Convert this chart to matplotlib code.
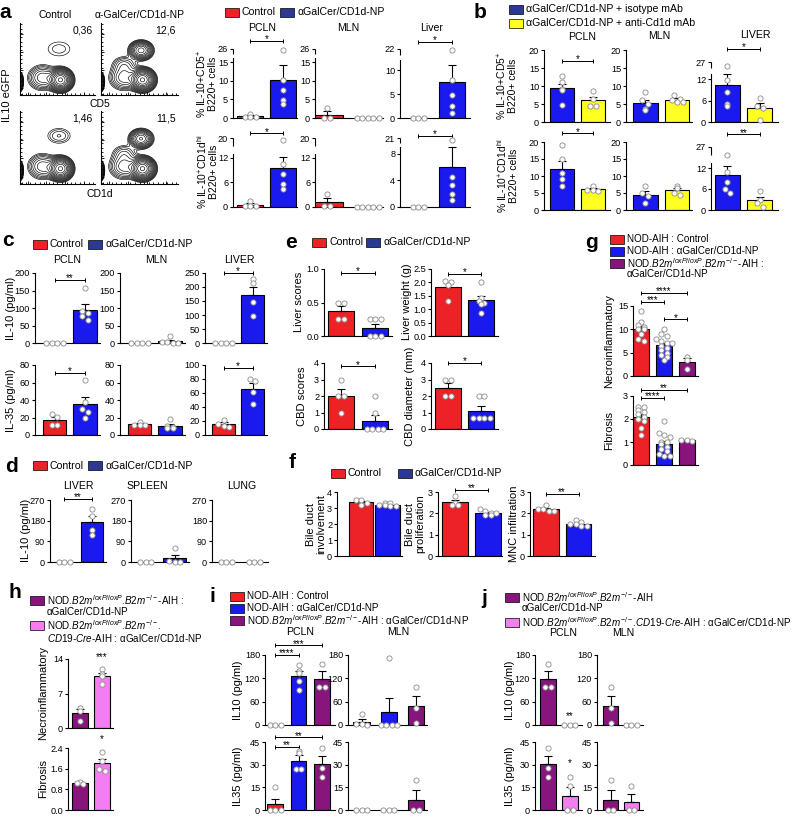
import numpy as np
import matplotlib
matplotlib.use('Agg')
import matplotlib.pyplot as plt
from matplotlib.patches import Rectangle
import matplotlib.transforms as mtransforms

plt.rcParams['font.family'] = ['Liberation Sans', 'DejaVu Sans']
plt.rcParams['mathtext.fontset'] = 'custom'
plt.rcParams['mathtext.rm'] = 'Liberation Sans'
plt.rcParams['mathtext.it'] = 'Liberation Sans:italic'
plt.rcParams['mathtext.bf'] = 'Liberation Sans:bold'
plt.rcParams['axes.linewidth'] = 0.8

RED = '#ec2227'
BLUE = '#1a1aee'
NAVY = '#2b3990'
YELLOW = '#ffff22'
PURPLE = '#88157c'
PINK = '#f27ef0'
PT_EDGE = '#8a8a8a'
FS = 7.6      # titles, legends
FS_KEY2 = 7.1  # long genotype legends (g-j)
FS_TICK = 6.6
FS_YLAB = 8

# ---------------- data ----------------
# a: % IL-10+CD5+ B220+ (row 1), % IL-10+CD1dhi B220+ (row 2)
a_cd5_pcln_ctrl = [1.2, 0.3, 0.3, 0.3]
a_cd5_pcln_np = [25, 10.2, 7.5, 4.8, 3.8]
a_cd5_mln_ctrl = [2.6, 0.1, 0.1]
a_cd5_mln_np = [0, 0, 0, 0, 0]
a_cd5_liver_ctrl = [0, 0, 0]
a_cd5_liver_np = [21, 7.9, 4.8, 2.5, 1.0]
a_cd1d_pcln_ctrl = [1.5, 0.3, 0.3, 0.3]
a_cd1d_pcln_np = [19, 10.5, 8, 5.5, 4.5]
a_cd1d_mln_ctrl = [3.2, 0.2, 0.2]
a_cd1d_mln_np = [0, 0, 0, 0, 0]
a_cd1d_liver_ctrl = [0, 0, 0]
a_cd1d_liver_np = [19, 4.5, 3.3, 1.9, 1.1]

# flow plots: populations (cx, cy, sx, sy) and weights
flow_main = [0.54, 0.21, 0.07, 0.068]
flow_shoulder = [0.30, 0.24, 0.10, 0.09]
flow_edge = [0.0, 0.18, 0.02, 0.06]
flow_mid = [0.30, 0.42, 0.09, 0.07]
flow_pos = {'ctrl_cd5': [0.52, 0.64, 0.15, 0.10], 'np_cd5': [0.52, 0.62, 0.07, 0.06],
            'ctrl_cd1d': [0.52, 0.66, 0.11, 0.075], 'np_cd1d': [0.52, 0.62, 0.07, 0.06]}
flow_pos_w = {'ctrl_cd5': 0.032, 'np_cd5': 0.45, 'ctrl_cd1d': 0.05, 'np_cd1d': 0.40}
flow_mid_w = {'ctrl_cd5': 0.0, 'np_cd5': 0.07, 'ctrl_cd1d': 0.0, 'np_cd1d': 0.06}
flow_pct = {'ctrl_cd5': '0,36', 'np_cd5': '12,6', 'ctrl_cd1d': '1,46', 'np_cd1d': '11,5'}

# b
b_cd5_pcln_iso = [12.8, 11, 9.2, 9, 4.8]
b_cd5_pcln_anti = [8.5, 6.5, 4.5, 4.5]
b_cd5_mln_iso = [8.2, 6.0, 5.0, 3.5, 3.2]
b_cd5_mln_anti = [7.5, 6.5, 6.0, 5.5, 5.5]
b_cd5_liver_iso = [22, 11.7, 8.3, 5.0, 4.5]
b_cd5_liver_anti = [6.7, 4.5, 4.0, 0.5]
b_cd1d_pcln_iso = [19, 15, 11, 9, 7]
b_cd1d_pcln_anti = [7.0, 6.0, 6.0, 5.5]
b_cd1d_mln_iso = [7, 5, 4, 2]
b_cd1d_mln_anti = [7, 6.5, 5, 4.5]
b_cd1d_liver_iso = [20, 11, 8, 6, 5]
b_cd1d_liver_anti = [5.5, 3, 2, 1]

# c
c_il10_pcln_ctrl = [0, 0, 0, 0]
c_il10_pcln_np = [157, 92, 85, 78, 65]
c_il10_mln_ctrl = [0, 0, 0, 0]
c_il10_mln_np = [20, 2, 2, 1, 0]
c_il10_liver_ctrl = [0, 0, 0, 0]
c_il10_liver_np = [228, 214, 146, 95]
c_il35_pcln_ctrl = [24, 21, 11, 11]
c_il35_pcln_np = [63, 38, 30, 26, 20]
c_il35_mln_ctrl = [15, 12, 12, 11]
c_il35_mln_np = [18, 10, 9, 8, 8]
c_il35_liver_ctrl = [22, 16, 13, 11]
c_il35_liver_np = [80, 77, 62, 45]

# d
d_liver_ctrl = [0, 0, 0]
d_liver_np = [232, 200, 140, 118]
d_spleen_ctrl = [0, 0, 0]
d_spleen_np = [61, 5, 2, 2]
d_lung_ctrl = [0, 0, 0]
d_lung_np = [0, 0, 0]

# e
e_liver_score_ctrl = [0.5, 0.5, 0.25, 0.25]
e_liver_score_np = [0.25, 0.25, 0.25, 0, 0, 0]
e_liver_wt_ctrl = [2.05, 2.0, 1.9, 1.3]
e_liver_wt_np = [2.0, 1.4, 1.3, 1.25, 1.2, 0.85]
e_cbd_score_ctrl = [3, 2, 2, 1]
e_cbd_score_np = [2, 1, 0, 0, 0, 0]
e_cbd_diam_ctrl = [3, 3, 2, 2]
e_cbd_diam_np = [2, 2, 0.65, 0.65, 0.65, 0.65]

# f
f_involve_ctrl = [3.5, 3.5, 3.3, 3.2]
f_involve_np = [3.3, 3.3, 3.2, 3.2, 3.1, 3.1]
f_prolif_ctrl = [2.8, 2.5, 2.4, 2.4]
f_prolif_np = [2.2, 2.1, 2.0, 2.0, 1.9, 1.9]
f_mnc_ctrl = [2.4, 2.2, 2.2, 2.1, 2.1]
f_mnc_np = [1.7, 1.6, 1.5, 1.5, 1.4, 1.4]

# g
g_necro_ctrl = [14, 11.5, 11, 10.5, 10, 10, 9, 8, 7.5]
g_necro_np = [10, 9, 8.5, 8, 7.5, 7, 7, 6.5, 6, 5.5, 5, 4.5, 4, 3.5]
g_necro_b2m = [4, 3.5, 1.5]
g_fib_ctrl = [2.5, 2.5, 2.4, 2.3, 2.2, 2.1, 2.0, 1.9, 1.6, 1.3]
g_fib_np = [1.9, 1.4, 1.3, 1.2, 1.0, 1.0, 0.9, 0.8, 0.7, 0.6, 0.5, 0.4, 0.4]
g_fib_b2m = [1.1, 1.1, 1.05]

# h
h_necro_b2m = [4, 3.5, 1.5]
h_necro_cre = [12, 11, 10.5, 9]
h_fib_b2m = [1.1, 1.05, 1.0]
h_fib_cre = [2.25, 1.9, 1.6, 1.5]

# i
i_il10_pcln_ctrl = [0, 0, 0]
i_il10_pcln_np = [155, 140, 135, 112, 90]
i_il10_pcln_b2m = [158, 97, 97]
i_il10_mln_ctrl = [28, 3, 2, 0]
i_il10_mln_np = [172, 0, 0, 0, 0]
i_il10_mln_b2m = [97, 43, 4]
i_il35_pcln_ctrl = [15, 0, 0, 0]
i_il35_pcln_np = [39, 38, 27, 27]
i_il35_pcln_b2m = [41, 28, 22]
i_il35_mln_ctrl = [0, 0, 0]
i_il35_mln_np = [0, 0, 0]
i_il35_mln_b2m = [20, 0, 0]

# j
j_il10_pcln_b2m = [158, 97, 97]
j_il10_pcln_cre = [0, 0, 0]
j_il10_mln_b2m = [97, 43, 4]
j_il10_mln_cre = [0, 0, 0]
j_il35_pcln_b2m = [41, 28, 22]
j_il35_pcln_cre = [22, 16, 0, 0]
j_il35_mln_b2m = [20, 0, 0]
j_il35_mln_cre = [16, 0, 0]

NP = 'αGalCer/CD1d-NP'
B2M = r'NOD.$\mathit{B2m}^{\mathit{loxP/loxP}}$.$\mathit{B2m}^{-/-}$'

# ---------------- helpers ----------------
W, H = 799, 819
fig = plt.figure(figsize=(W / 100, H / 100), dpi=100)


def px_axes(x0, y0, x1, y1):
    return fig.add_axes([x0 / W, 1 - y1 / H, (x1 - x0) / W, (y1 - y0) / H])


def ftext(x, y, s, **kw):
    kw.setdefault('fontsize', FS)
    kw.setdefault('ha', 'center')
    kw.setdefault('va', 'center')
    fig.text(x / W, 1 - y / H, s, **kw)


def letter(x, y, s):
    ftext(x, y, s, fontsize=15, fontweight='bold')


def key(x, y, color, label, w=14, h=9, fs=FS):
    if color is not None:
        fig.add_artist(Rectangle((x / W, 1 - (y + h / 2) / H), w / W, h / H,
                                 transform=fig.transFigure, facecolor=color,
                                 edgecolor='k', lw=0.5))
    ftext(x + w + 3, y, label, ha='left', fontsize=fs)


def ylab(x, y, s, fs=FS_YLAB):
    ftext(x, y, s, rotation=90, linespacing=0.95, fontsize=fs)


def swarm(scaled, binw, step):
    # spread points that sit at about the same height side by side
    keys = np.round(scaled / binw).astype(int)
    offs = np.zeros(len(scaled))
    for kk in np.unique(keys):
        idx = np.where(keys == kk)[0]
        offs[idx] = (np.arange(len(idx)) - (len(idx) - 1) / 2) * step
    return offs


def bars(box, groups, colors, ticks, labels=None, xlim=(-0.6, 1.5), width=0.78,
         brk=None, brackets=(), stars=()):
    x0, x1, ytop, y0 = box
    ax = px_axes(x0, ytop, x1, y0)
    top = ticks[-1]
    fwd = lambda y: np.asarray(y, float)
    top_scaled = top
    if brk is not None:
        b, g = brk
        k = g / (top - b)
        top_scaled = b + g

        def fwd(y, b=b, k=k):
            y = np.asarray(y, float)
            return np.where(y <= b, y, b + (y - b) * k)

        def inv(z, b=b, k=k):
            z = np.asarray(z, float)
            return np.where(z <= b, z, b + (z - b) / k)
        ax.set_yscale('function', functions=(fwd, inv))
    unit_px = (x1 - x0) / (xlim[1] - xlim[0])
    binw = top_scaled * 5.0 / (y0 - ytop)
    for i, (vals, c) in enumerate(zip(groups, colors)):
        vals = np.asarray(vals, float)
        m = vals.mean()
        s = vals.std(ddof=1) / np.sqrt(len(vals))
        if m > 0:
            ax.bar(i, m, width, color=c, edgecolor='k', lw=0.8, zorder=1)
        if s > 0:
            ax.errorbar(i, m, yerr=[[0], [s]], fmt='none', ecolor='k',
                        elinewidth=0.8, capsize=3, capthick=0.8, zorder=2)
        offs = swarm(fwd(vals), binw, 5.5 / unit_px)
        ax.scatter(i + offs, vals, s=14, facecolor='white', edgecolor=PT_EDGE,
                   lw=0.6, zorder=3, clip_on=False)
    ax.set_xlim(*xlim)
    ax.set_ylim(0, top)
    ax.set_xticks([])
    ax.set_yticks(ticks)
    ax.set_yticklabels(labels if labels is not None else [str(t) for t in ticks])
    ax.yaxis.set_minor_locator(matplotlib.ticker.NullLocator())
    ax.tick_params(axis='y', length=2.5, width=0.8, labelsize=FS_TICK, pad=1)
    for sp in ('top', 'right'):
        ax.spines[sp].set_visible(False)
    if brk is not None:
        b, g = brk
        ax.spines['left'].set_bounds(0, b)
        lo = b + 0.5 * (top - b)
        ax.plot([xlim[0], xlim[0]], [lo, top], color='k', lw=0.8,
                clip_on=False, solid_capstyle='butt')
    tr = mtransforms.blended_transform_factory(ax.transData, ax.transAxes)
    for i, j, yf, txt in brackets:
        ax.plot([i, j], [yf, yf], color='k', lw=0.7, marker='|', ms=3,
                mew=0.7, transform=tr, clip_on=False)
        ax.annotate(txt, ((i + j) / 2, yf), xycoords=tr, xytext=(0, -2.5),
                    textcoords='offset points', ha='center', va='bottom',
                    fontsize=7)
    for i, yf, txt in stars:
        ax.annotate(txt, (i, yf), xycoords=tr, xytext=(0, -2),
                    textcoords='offset points', ha='center', va='bottom', fontsize=7)
    return ax


def flow(box, key_):
    x0, y0, x1, y1 = box
    ax = px_axes(x0, y0, x1, y1)
    gx = np.linspace(0, 1, 200)
    X, Y = np.meshgrid(gx, gx)
    pops = [(flow_main, 1.0), (flow_shoulder, 0.15), (flow_edge, 0.3),
            (flow_mid, flow_mid_w[key_]), (flow_pos[key_], flow_pos_w[key_])]
    Z = np.zeros_like(X)
    for (cx, cy, sx, sy), w in pops:
        Z += w * np.exp(-((X - cx) ** 2 / (2 * sx ** 2) + (Y - cy) ** 2 / (2 * sy ** 2)))
    levels = Z.max() * np.geomspace(0.02, 0.92, 14)
    ax.contour(X, Y, Z, levels=levels, colors='k', linewidths=0.45)
    ax.set_xlim(0, 1)
    ax.set_ylim(0, 1)
    ax.set_xticks([0.1, 0.35, 0.6, 0.85])
    ax.set_yticks([0.1, 0.35, 0.6, 0.85])
    ax.set_xticks(np.linspace(0.02, 0.98, 17), minor=True)
    ax.set_yticks(np.linspace(0.02, 0.98, 17), minor=True)
    ax.tick_params(which='both', direction='in', labelleft=False, labelbottom=False,
                   length=2.5, width=0.6)
    ax.tick_params(which='minor', length=1.2)
    for sp in ('top', 'right'):
        ax.spines[sp].set_visible(False)
    ax.text(0.97, 0.97, flow_pct[key_], transform=ax.transAxes, ha='right',
            va='top', fontsize=7.5)
    return ax


# ---------------- panel a ----------------
letter(5, 13, 'a')
ftext(55, 15, 'Control', fontsize=7.5)
ftext(140, 15, 'α-GalCer/CD1d-NP', fontsize=7.5)
flow((20, 23, 95, 95), 'ctrl_cd5')
flow((101, 23, 178, 95), 'np_cd5')
flow((20, 111, 95, 184), 'ctrl_cd1d')
flow((101, 111, 178, 184), 'np_cd1d')
ftext(100, 104, 'CD5', fontsize=7.5)
ftext(100, 194, 'CD1d', fontsize=7.5)
ylab(7, 95, 'IL10 eGFP')

key(225, 12, RED, 'Control')
key(280, 12, NAVY, NP)
ftext(262, 28, 'PCLN')
ftext(348, 28, 'MLN')
ftext(432, 28, 'Liver')
ylab(207, 84, '% IL-10+CD5$^{+}$\nB220+ cells', fs=7.5)
ylab(207, 172, '% IL-10$^{+}$CD1d$^{\\mathrm{hi}}$\nB220+ cells', fs=7.5)
bars((233, 297, 49, 118), [a_cd5_pcln_ctrl, a_cd5_pcln_np], [RED, BLUE],
     [0, 5, 10, 15, 26], xlim=(-0.52, 1.42), brk=(16, 2.5), brackets=[(0, 1, 1.12, '*')])
bars((315, 383, 49, 118), [a_cd5_mln_ctrl, a_cd5_mln_np], [RED, BLUE],
     [0, 5, 10, 15, 26], xlim=(-0.3, 1.37), brk=(16, 2.5))
bars((400, 470, 49, 118), [a_cd5_liver_ctrl, a_cd5_liver_np], [RED, BLUE],
     [0, 5, 10, 22], xlim=(-0.53, 1.53), brk=(12, 2.4), brackets=[(0, 1, 1.1, '*')])
bars((233, 297, 138, 207), [a_cd1d_pcln_ctrl, a_cd1d_pcln_np], [RED, BLUE],
     [0, 6, 12, 20], xlim=(-0.52, 1.42), brk=(13, 3.8), brackets=[(0, 1, 1.07, '*')])
bars((315, 383, 138, 207), [a_cd1d_mln_ctrl, a_cd1d_mln_np], [RED, BLUE],
     [0, 6, 12, 20], xlim=(-0.3, 1.37), brk=(13, 3.8))
bars((400, 470, 138, 207), [a_cd1d_liver_ctrl, a_cd1d_liver_np], [RED, BLUE],
     [0, 4, 8, 21], xlim=(-0.53, 1.53), brk=(9, 1.4), brackets=[(0, 1, 1.03, '*')])

# ---------------- panel b ----------------
letter(480, 13, 'b')
key(509, 9, NAVY, NP + ' + isotype mAb')
key(509, 23, YELLOW, NP + ' + anti-Cd1d mAb')
ftext(582, 37, 'PCLN')
ftext(659, 36, 'MLN')
ftext(755, 35, 'LIVER')
ylab(507, 86, '% IL-10+CD5$^{+}$\nB220+ cells', fs=7.5)
ylab(507, 176, '% IL-10$^{+}$CD1d$^{\\mathrm{hi}}$\nB220+ cells', fs=7.5)
bars((544, 610, 50, 122), [b_cd5_pcln_iso, b_cd5_pcln_anti], [BLUE, YELLOW],
     [0, 5, 10, 15, 20], xlim=(-0.58, 1.55), brackets=[(0, 1, 0.85, '*')])
bars((626, 692, 50, 122), [b_cd5_mln_iso, b_cd5_mln_anti], [BLUE, YELLOW],
     [0, 5, 10, 15, 20], xlim=(-0.6, 1.47))
bars((711, 778, 62, 122), [b_cd5_liver_iso, b_cd5_liver_anti], [BLUE, YELLOW],
     [0, 6, 12, 27], xlim=(-0.5, 1.56), brk=(13.5, 3.25), brackets=[(0, 1, 1.22, '*')])
bars((544, 610, 142, 210), [b_cd1d_pcln_iso, b_cd1d_pcln_anti], [BLUE, YELLOW],
     [0, 5, 10, 15, 20], xlim=(-0.58, 1.55), brackets=[(0, 1, 1.13, '*')])
bars((626, 692, 142, 210), [b_cd1d_mln_iso, b_cd1d_mln_anti], [BLUE, YELLOW],
     [0, 5, 10, 15, 20], xlim=(-0.6, 1.47))
bars((711, 778, 147, 210), [b_cd1d_liver_iso, b_cd1d_liver_anti], [BLUE, YELLOW],
     [0, 6, 12, 27], xlim=(-0.5, 1.56), brk=(13.5, 4.5), brackets=[(0, 1, 1.2, '**')])

# ---------------- panel c ----------------
letter(8, 240, 'c')
key(33, 244, RED, 'Control')
key(88, 244, NAVY, NP)
ftext(67, 260, 'PCLN')
ftext(156, 260, 'MLN')
ftext(239, 260, 'LIVER')
ylab(11, 308, 'IL-10 (pg/ml)')
ylab(11, 400, 'IL-35 (pg/ml)')
cx = (-0.65, 1.5)
bars((35, 100, 273, 343), [c_il10_pcln_ctrl, c_il10_pcln_np], [RED, BLUE],
     [0, 50, 100, 150, 200], xlim=cx, brackets=[(0, 1, 0.9, '**')])
bars((120, 185, 273, 343), [c_il10_mln_ctrl, c_il10_mln_np], [RED, BLUE],
     [0, 50, 100, 150, 200], xlim=cx)
bars((205, 267, 273, 343), [c_il10_liver_ctrl, c_il10_liver_np], [RED, BLUE],
     [0, 50, 100, 150, 200, 250], xlim=cx, brackets=[(0, 1, 1.0, '*')])
bars((35, 100, 365, 435), [c_il35_pcln_ctrl, c_il35_pcln_np], [RED, BLUE],
     [0, 20, 40, 60, 80], xlim=cx, brackets=[(0, 1, 0.89, '*')])
bars((120, 185, 365, 435), [c_il35_mln_ctrl, c_il35_mln_np], [RED, BLUE],
     [0, 20, 40, 60, 80], xlim=cx)
bars((205, 267, 365, 435), [c_il35_liver_ctrl, c_il35_liver_np], [RED, BLUE],
     [0, 20, 40, 60, 80, 100], xlim=cx, brackets=[(0, 1, 0.96, '*')])

# ---------------- panel d ----------------
letter(12, 467, 'd')
key(33, 466, RED, 'Control')
key(88, 466, NAVY, NP)
ftext(78, 486, 'LIVER')
ftext(147, 486, 'SPLEEN')
ftext(242, 486, 'LUNG')
ylab(26, 530, 'IL-10 (pg/ml)')
bars((50, 106, 500, 562), [d_liver_ctrl, d_liver_np], [RED, BLUE],
     [0, 90, 180, 270], xlim=(-0.5, 1.5), brackets=[(0, 1, 1.02, '**')])
bars((131, 189, 500, 562), [d_spleen_ctrl, d_spleen_np], [RED, BLUE],
     [0, 90, 180, 270], xlim=(-0.5, 1.5))
bars((212, 268, 500, 562), [d_lung_ctrl, d_lung_np], [RED, BLUE],
     [0, 90, 180, 270], xlim=(-0.5, 1.5))

# ---------------- panel e ----------------
letter(291, 242, 'e')
key(312, 242, RED, 'Control')
key(366, 242, NAVY, NP)
ylab(299, 302, 'Liver scores')
ylab(407, 302, 'Liver weight (g)')
ylab(302, 396, 'CBD scores')
ylab(410, 396, 'CBD diameter (mm)')
bars((324, 392, 269, 336), [e_liver_score_ctrl, e_liver_score_np], [RED, BLUE],
     [0, 0.5, 1.0], labels=['0.0', '0.5', '1.0'], brackets=[(0, 1, 0.94, '*')], xlim=(-0.5, 1.5))
bars((431, 498, 269, 336), [e_liver_wt_ctrl, e_liver_wt_np], [RED, BLUE],
     [0, 0.5, 1.0, 1.5, 2.0, 2.5], labels=['0.0', '0.5', '1.0', '1.5', '2.0', '2.5'],
     brackets=[(0, 1, 0.93, '*')], xlim=(-0.5, 1.5))
bars((324, 392, 363, 429), [e_cbd_score_ctrl, e_cbd_score_np], [RED, BLUE],
     [0, 1, 2, 3, 4], brackets=[(0, 1, 0.95, '*')], xlim=(-0.5, 1.5))
bars((431, 498, 363, 429), [e_cbd_diam_ctrl, e_cbd_diam_np], [RED, BLUE],
     [0, 1, 2, 3, 4], brackets=[(0, 1, 1.0, '*')], xlim=(-0.5, 1.5))

# ---------------- panel f ----------------
letter(292, 462, 'f')
key(331, 473, RED, 'Control')
key(398, 473, NAVY, NP)
ylab(316, 524, 'Bile duct\ninvolvement')
ylab(415, 524, 'Bile duct\nproliferation')
ylab(514, 524, 'MNC infiltration')
bars((337, 402, 492, 556), [f_involve_ctrl, f_involve_np], [RED, BLUE],
     [0, 1, 2, 3, 4], xlim=(-0.92, 1.55), width=0.92)
bars((438, 502, 492, 556), [f_prolif_ctrl, f_prolif_np], [RED, BLUE],
     [0, 1, 2, 3], xlim=(-0.52, 1.42), brackets=[(0, 1, 1.03, '**')])
bars((530, 595, 492, 556), [f_mnc_ctrl, f_mnc_np], [RED, BLUE],
     [0, 1, 2, 3], xlim=(-0.48, 1.5), brackets=[(0, 1, 0.97, '**')])

# ---------------- panel g ----------------
letter(592, 242, 'g')
key(610, 239, RED, 'NOD-AIH : Control', fs=FS_KEY2)
key(610, 251, BLUE, 'NOD-AIH : ' + NP, fs=FS_KEY2)
key(610, 263, PURPLE, B2M + '-AIH :', fs=FS_KEY2)
key(610, 274, None, NP, fs=FS_KEY2)
ylab(609, 341, 'Necroinflammatory')
ylab(609, 430, 'Fibrosis')
gc = [RED, BLUE, PURPLE]
bars((633, 698, 306, 376), [g_necro_ctrl, g_necro_np, g_necro_b2m], gc,
     [0, 5, 10, 15], xlim=(-0.35, 2.48), width=0.7,
     brackets=[(0, 2, 1.19, '****'), (0, 1, 1.06, '***'), (1, 2, 0.81, '*')])
bars((633, 698, 396, 465), [g_fib_ctrl, g_fib_np, g_fib_b2m], gc,
     [0, 1, 2, 3], xlim=(-0.35, 2.48), width=0.7,
     brackets=[(0, 2, 1.09, '**'), (0, 1, 0.97, '****')])

# ---------------- panel h ----------------
letter(15, 593, 'h')
key(30, 600, PURPLE, B2M + '-AIH :', fs=FS_KEY2)
key(30, 612, None, NP, fs=FS_KEY2)
key(30, 625, PINK, B2M + '.', fs=FS_KEY2)
key(30, 638, None, r'$\mathit{CD19}$-$\mathit{Cre}$-AIH : ' + NP, fs=FS_KEY2)
ylab(43, 693, 'Necroinflammatory')
ylab(43, 779, 'Fibrosis')
bars((68, 113, 659, 728), [h_necro_b2m, h_necro_cre], [PURPLE, PINK],
     [0, 7, 14], xlim=(-0.55, 1.5), width=0.7, stars=[(1, 1.0, '***')])
bars((68, 113, 748, 810), [h_fib_b2m, h_fib_cre], [PURPLE, PINK],
     [0, 0.8, 1.6, 2.4], labels=['0.0', '0.8', '1.6', '2.4'], xlim=(-0.55, 1.5),
     width=0.7, stars=[(1, 1.1, '*')])

# ---------------- panel i ----------------
letter(212, 597, 'i')
key(230, 596, RED, 'NOD-AIH : Control', fs=FS_KEY2)
key(230, 608, BLUE, 'NOD-AIH : ' + NP, fs=FS_KEY2)
key(230, 620, PURPLE, B2M + '-AIH : ' + NP, fs=FS_KEY2)
ftext(300, 632, 'PCLN')
ftext(398, 632, 'MLN')
ylab(238, 690, 'IL10 (pg/ml)')
ylab(238, 776, 'IL35 (pg/ml)')
ic = [RED, BLUE, PURPLE]
bars((265, 335, 655, 725), [i_il10_pcln_ctrl, i_il10_pcln_np, i_il10_pcln_b2m], ic,
     [0, 60, 120, 180], xlim=(-0.43, 2.55), width=0.65,
     brackets=[(0, 2, 1.14, '***'), (0, 1, 1.0, '****')])
bars((348, 427, 655, 725), [i_il10_mln_ctrl, i_il10_mln_np, i_il10_mln_b2m], ic,
     [0, 60, 120, 180], xlim=(-0.5, 2.4), width=0.6)
bars((265, 335, 742, 810), [i_il35_pcln_ctrl, i_il35_pcln_np, i_il35_pcln_b2m], ic,
     [0, 15, 30, 45], xlim=(-0.43, 2.55), width=0.65,
     brackets=[(0, 2, 1.07, '**'), (0, 1, 0.93, '**')])
bars((348, 427, 742, 810), [i_il35_mln_ctrl, i_il35_mln_np, i_il35_mln_b2m], ic,
     [0, 15, 30, 45], xlim=(-0.5, 2.4), width=0.6)

# ---------------- panel j ----------------
letter(484, 598, 'j')
key(505, 597, PURPLE, B2M + '-AIH', fs=FS_KEY2)
key(505, 608, None, NP, fs=FS_KEY2)
key(505, 622, PINK, B2M + r'.$\mathit{CD19}$-$\mathit{Cre}$-AIH : ' + NP, fs=FS_KEY2)
ftext(563, 633, 'PCLN')
ftext(623, 633, 'MLN')
ylab(510, 690, 'IL10 (pg/ml)')
ylab(510, 776, 'IL35 (pg/ml)')
jc = [PURPLE, PINK]
bars((535, 582, 655, 725), [j_il10_pcln_b2m, j_il10_pcln_cre], jc,
     [0, 60, 120, 180], xlim=(-0.6, 1.55), width=0.72, stars=[(1, 0.1, '**')])
bars((597, 643, 655, 725), [j_il10_mln_b2m, j_il10_mln_cre], jc,
     [0, 60, 120, 180], xlim=(-0.65, 1.55), width=0.72)
bars((535, 582, 742, 810), [j_il35_pcln_b2m, j_il35_pcln_cre], jc,
     [0, 15, 30, 45], xlim=(-0.6, 1.55), width=0.72, stars=[(1, 0.66, '*')])
bars((597, 643, 742, 810), [j_il35_mln_b2m, j_il35_mln_cre], jc,
     [0, 15, 30, 45], xlim=(-0.65, 1.55), width=0.72)

fig.savefig('out.png', dpi=100)
